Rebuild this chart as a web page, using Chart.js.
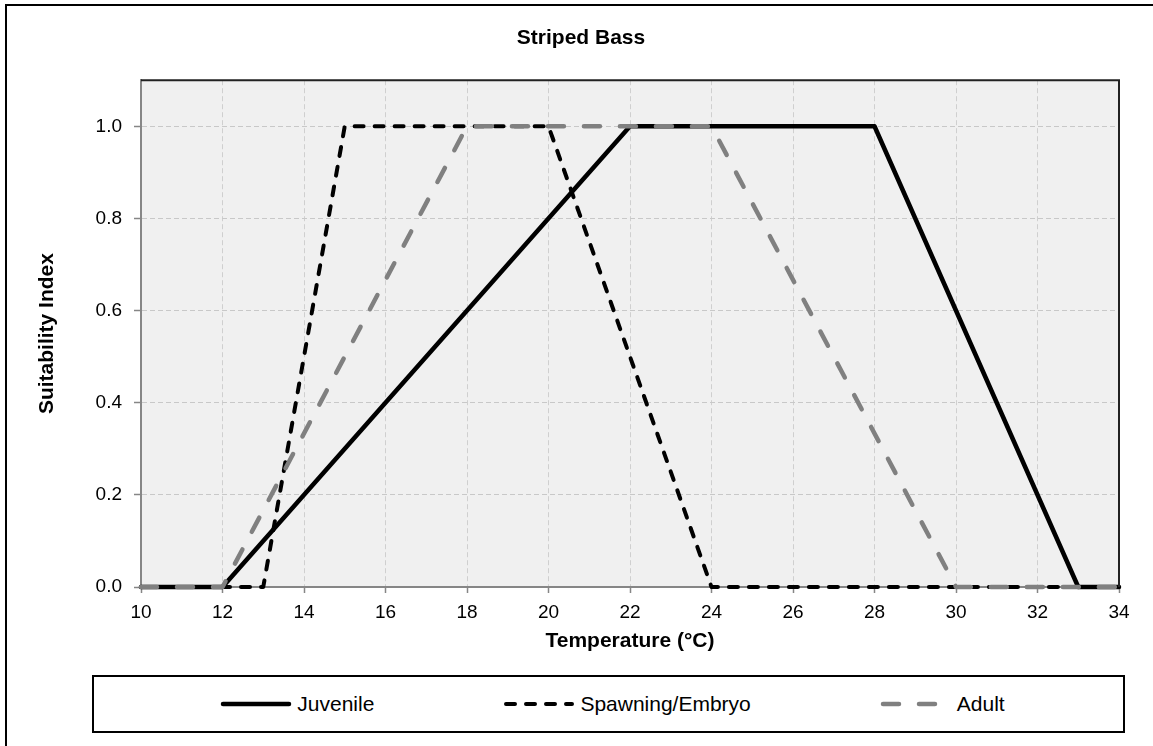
<!DOCTYPE html>
<html>
<head>
<meta charset="utf-8">
<script src="https://cdn.jsdelivr.net/npm/chart.js@4.4.1/dist/chart.umd.min.js"></script>
<style>
  html, body { margin: 0; padding: 0; background: #fff; }
  #wrap { position: relative; width: 1153px; height: 746px; overflow: hidden; font-family: "Liberation Sans", Arial, sans-serif; }
  #frame { position: absolute; left: 5px; top: 4px; right: -10px; bottom: -10px; border-left: 2px solid #000; border-top: 2px solid #000; }
  #chart { position: absolute; left: 0; top: 0; }
  #legend { position: absolute; left: 92px; top: 675px; width: 1021px; height: 54px; border: 2px solid #000; background: #fff;
            display: flex; align-items: center; justify-content: center; padding-left: 8px; box-sizing: content-box; }
  .item { display: flex; align-items: center; font-size: 21px; color: #000; }
  .item svg { display: block; margin-right: 5px; }
  .item + .item { margin-left: 129px; }
</style>
</head>
<body>
<div id="wrap">
  <div id="frame"></div>
  <canvas id="chart" width="1153" height="746"></canvas>
  <div id="legend"></div>
</div>
<script>
// temperature breakpoints (°C) and suitability values
const juvenileX = [10, 12, 22, 28, 33, 34];
const juvenileY = [0, 0, 1, 1, 0, 0];
const spawningX = [10, 13, 15, 20, 24, 34];
const spawningY = [0, 0, 1, 1, 0, 0];
const adultX = [10, 12, 18, 24, 30, 34];
const adultY = [0, 0, 1, 1, 0, 0];

const seriesNames = ['Juvenile', 'Spawning/Embryo', 'Adult'];
const seriesColors = ['#000000', '#000000', '#808080'];
const seriesWidths = [4.5, 4, 4.5];
const seriesDash = [[], [9, 11], [16, 20]];

const chartTitle = 'Striped Bass';
const xTitle = 'Temperature (°C)';
const yTitle = 'Suitability Index';

const FONT = '"Liberation Sans", Arial, sans-serif';

function pts(xs, ys) {
    return xs.map((x, i) => ({ x: x, y: ys[i] }));
}

// grey plot background + dark top/right edge of the plot box
const plotDeco = {
    id: 'plotDeco',
    beforeDraw(chart) {
        const a = chart.chartArea;
        const ctx = chart.ctx;
        ctx.save();
        ctx.fillStyle = '#f0f0f0';
        ctx.fillRect(a.left, a.top, a.right - a.left, a.bottom - a.top);
        ctx.restore();
    },
    afterDraw(chart) {
        const a = chart.chartArea;
        const ctx = chart.ctx;
        ctx.save();
        ctx.strokeStyle = '#222';
        ctx.lineWidth = 2;
        ctx.beginPath();
        ctx.moveTo(a.left, a.top);
        ctx.lineTo(a.right, a.top);
        ctx.lineTo(a.right, a.bottom);
        ctx.stroke();
        ctx.restore();
    }
};

const sets = [pts(juvenileX, juvenileY), pts(spawningX, spawningY), pts(adultX, adultY)];
const orders = [1, 2, 0];

new Chart(document.getElementById('chart').getContext('2d'), {
    type: 'line',
    data: {
        datasets: sets.map((d, i) => ({
            label: seriesNames[i],
            data: d,
            borderColor: seriesColors[i],
            borderWidth: seriesWidths[i],
            borderDash: seriesDash[i],
            borderCapStyle: 'round',
            borderJoinStyle: 'round',
            pointRadius: 0,
            tension: 0,
            fill: false,
            clip: false,
            order: orders[i]
        }))
    },
    options: {
        responsive: false,
        animation: false,
        devicePixelRatio: 1,
        layout: { padding: { left: 43, right: 34, top: 0, bottom: 92 } },
        plugins: {
            legend: { display: false },
            tooltip: { enabled: false },
            title: {
                display: true,
                text: chartTitle,
                color: '#000',
                font: { family: FONT, size: 21, weight: 'bold' },
                padding: { top: 26, bottom: 29 }
            }
        },
        scales: {
            x: {
                type: 'linear',
                min: 10,
                max: 34,
                ticks: { stepSize: 2, color: '#000', padding: 8, font: { family: FONT, size: 19 }, maxRotation: 0 },
                grid: { color: '#cfcfcf', lineWidth: 1, tickColor: '#868686', tickLength: 6, tickWidth: 1.5 },
                border: { color: '#868686', width: 2, dash: [5, 3] },
                title: { display: true, text: xTitle, color: '#000', font: { family: FONT, size: 21, weight: 'bold' }, padding: 0 },
                afterFit(scale) { scale.height = 67; }
            },
            y: {
                min: 0,
                max: 1.1,
                ticks: {
                    stepSize: 0.2,
                    color: '#000',
                    padding: 12,
                    font: { family: FONT, size: 19 },
                    callback: v => v.toFixed(1)
                },
                afterBuildTicks(scale) {
                    scale.ticks = scale.ticks.filter(t => t.value <= 1.0001);
                },
                grid: { color: '#c8c8c8', lineWidth: 1, tickColor: '#868686', tickLength: 7, tickWidth: 1.5 },
                border: { color: '#868686', width: 2, dash: [5, 3] },
                title: { display: true, text: yTitle, color: '#000', font: { family: FONT, size: 21, weight: 'bold' }, padding: { top: -8, bottom: 0 } },
                afterFit(scale) { scale.width = 98; }
            }
        }
    },
    plugins: [plotDeco]
});

// legend in its own box, built from the same series styles
const legend = document.getElementById('legend');
seriesNames.forEach((name, i) => {
    const item = document.createElement('div');
    item.className = 'item';
    const ns = 'http://www.w3.org/2000/svg';
    const svg = document.createElementNS(ns, 'svg');
    svg.setAttribute('width', '72');
    svg.setAttribute('height', '10');
    const ln = document.createElementNS(ns, 'line');
    ln.setAttribute('x1', '3');
    ln.setAttribute('x2', '69');
    ln.setAttribute('y1', '5');
    ln.setAttribute('y2', '5');
    ln.setAttribute('stroke', seriesColors[i]);
    ln.setAttribute('stroke-width', seriesWidths[i]);
    ln.setAttribute('stroke-linecap', 'round');
    if (seriesDash[i].length) ln.setAttribute('stroke-dasharray', seriesDash[i].join(' '));
    svg.appendChild(ln);
    const txt = document.createElement('span');
    txt.textContent = name;
    item.appendChild(svg);
    item.appendChild(txt);
    legend.appendChild(item);
});
</script>
</body>
</html>
